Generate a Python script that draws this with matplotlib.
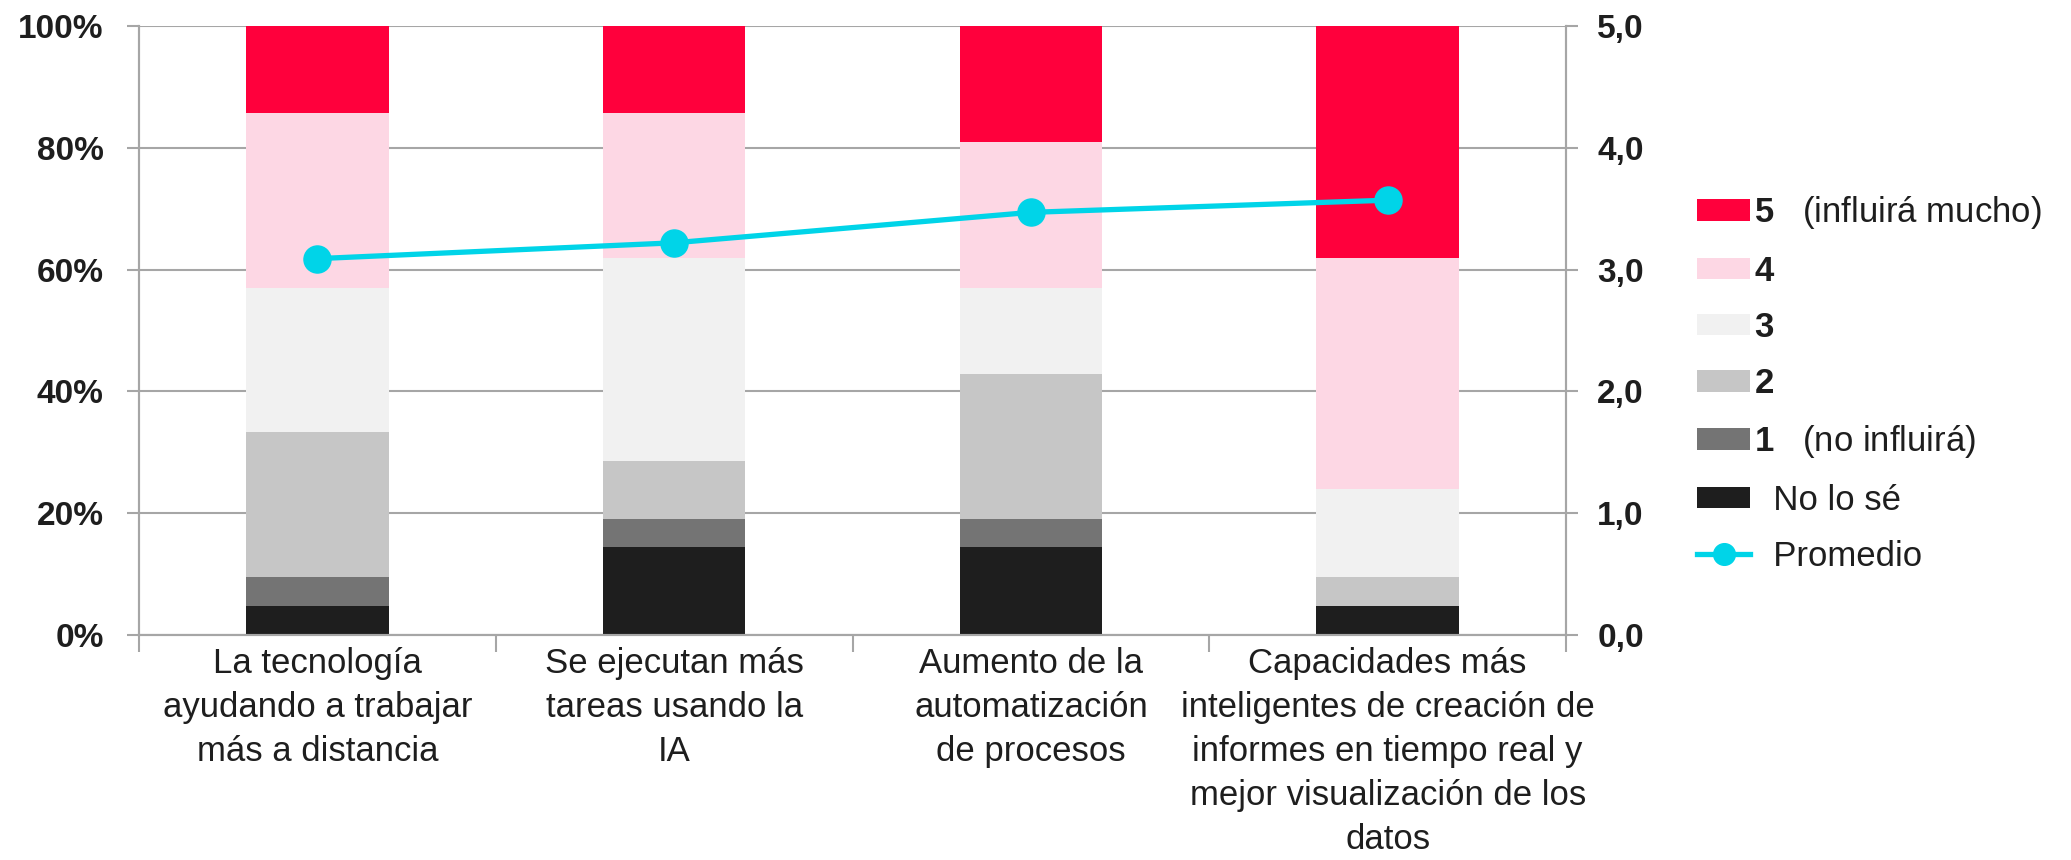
import matplotlib.pyplot as plt
import numpy as np

plt.rcParams['font.family'] = ['Liberation Sans', 'DejaVu Sans']
plt.rcParams['mathtext.fontset'] = 'custom'
plt.rcParams['mathtext.rm'] = 'Liberation Sans'
plt.rcParams['mathtext.bf'] = 'Liberation Sans:bold'

categories = ['La tecnología\nayudando a trabajar\nmás a distancia',
              'Se ejecutan más\ntareas usando la\nIA',
              'Aumento de la\nautomatización\nde procesos',
              'Capacidades más\ninteligentes de creación de\ninformes en tiempo real y\nmejor visualización de los\ndatos']
# shares (%) per answer, bottom to top
no_lo_se = [4.7, 14.4, 14.4, 4.7]
s1 = [4.8, 4.6, 4.6, 0.0]
s2 = [23.8, 9.5, 23.8, 4.8]
s3 = [23.7, 33.4, 14.2, 14.4]
s4 = [28.7, 23.8, 23.9, 38.0]
s5 = [14.3, 14.3, 19.1, 38.1]
promedio = [3.09, 3.22, 3.47, 3.57]

series = [no_lo_se, s1, s2, s3, s4, s5]
colors = ['#1e1e1e', '#747474', '#c6c6c6', '#f1f1f1', '#fdd7e4', '#ff003c']
labels = ['  No lo sé', r'$\mathbf{1}$   (no influirá)', r'$\mathbf{2}$', r'$\mathbf{3}$',
          r'$\mathbf{4}$', r'$\mathbf{5}$   (influirá mucho)']

fig = plt.figure(figsize=(20.71, 8.6), dpi=100)
ax = fig.add_axes([0.06712, 0.26163, 0.68904, 0.70814])
ax2 = ax.twinx()

x = np.arange(len(categories))
bottom = np.zeros(len(categories))
handles = []
for vals, c, lab in zip(series, colors, labels):
    h = ax.bar(x, vals, 0.4, bottom=bottom, color=c, label=lab, zorder=2)
    handles.append(h)
    bottom += np.array(vals)

line, = ax2.plot(x, promedio, color='#00d4e8', lw=3.8, marker='o', ms=19.5,
                 label='  Promedio', zorder=5)

grid_c = '#a6a6a6'
ax.set_xlim(-0.5, len(categories) - 0.5)
ax.set_ylim(0, 100)
ax.set_yticks(np.arange(0, 101, 20))
ax.set_yticklabels([f'{v}%' for v in range(0, 101, 20)], fontweight='bold')
ax.yaxis.grid(True, color=grid_c, lw=1.5, zorder=0)
ax.set_axisbelow(True)
ax2.set_ylim(0, 5)
ax2.set_yticks(np.arange(0, 5.1, 1))
ax2.set_yticklabels([f'{v:.1f}'.replace('.', ',') for v in np.arange(0, 5.1, 1)], fontweight='bold')

ax.set_xticks(x)
ax.set_xticklabels(categories, fontsize=25, linespacing=1.42, color='#1e1e1e')
ax.set_xticks(np.arange(-0.5, len(categories)), minor=True)
ax.tick_params(axis='x', which='major', length=0, pad=9)
ax.tick_params(axis='x', which='minor', length=12, color=grid_c, width=1.5)
ax.tick_params(axis='y', length=8.5, color=grid_c, width=1.5, labelsize=24, pad=17, labelcolor='#1e1e1e')
ax2.tick_params(axis='y', length=8.5, color=grid_c, width=1.5, labelsize=24, pad=14, labelcolor='#1e1e1e')

for a in (ax, ax2):
    a.spines['top'].set_visible(False)
    for s in ('left', 'right', 'bottom'):
        a.spines[s].set_color(grid_c)
        a.spines[s].set_linewidth(1.5)

leg_handles = handles[::-1] + [line]
leg_labels = [h.get_label() for h in leg_handles]
leg = fig.legend(leg_handles, leg_labels, loc='upper left', bbox_to_anchor=(0.8194, 0.774),
                 frameon=False, fontsize=25, handlelength=1.53, handleheight=0.58,
                 labelspacing=0.67, handletextpad=0.1, borderpad=0, borderaxespad=0,
                 markerscale=0.8)
for t in leg.get_texts():
    t.set_color('#1e1e1e')

fig.savefig('out.png', dpi=100)
